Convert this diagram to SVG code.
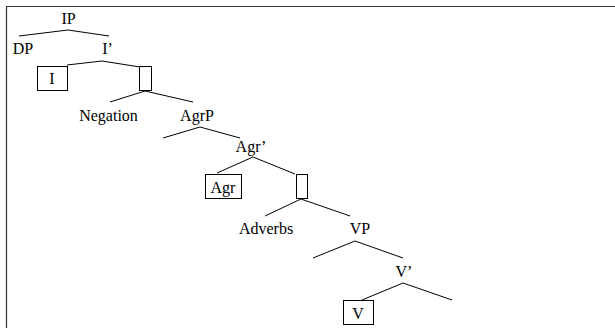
<svg xmlns="http://www.w3.org/2000/svg" width="615" height="328" viewBox="0 0 615 328">
<style>
text{font-family:"Liberation Serif","Times New Roman",serif;font-size:16px;fill:#000;text-anchor:middle}
.e{stroke:#000;stroke-width:1;fill:none}
.b{stroke:#000;stroke-width:1;fill:#fff}
</style>
<rect x="0" y="0" width="615" height="328" fill="#fff"/>
<path d="M6.5,340 V6.5 H620" fill="none" stroke="#333" stroke-width="1.2"/>
<g id="edges">
<path class="e" d="M19,36 L68,30 L109,36"/>
<path class="e" d="M67,65 L102,61 L140,67"/>
<path class="e" d="M110,102 L145,91 L193,102"/>
<path class="e" d="M163,138 L200,127 L240,138"/>
<path class="e" d="M217,173 L253,157 L295,174"/>
<path class="e" d="M265,216 L301,199 L350,216"/>
<path class="e" d="M313,258 L355,241 L403,258"/>
<path class="e" d="M362,300 L403,283 L452,300"/>
</g>
<g id="IP"><text x="68.5" y="24">IP</text></g>
<g id="DP"><text x="23" y="54">DP</text></g>
<g id="Ibar"><text x="107.5" y="54">I’</text></g>
<g id="I"><rect class="b" x="37.5" y="66.5" width="30" height="24"/><text x="52" y="84">I</text></g>
<g id="box1"><rect class="b" x="139.5" y="66.5" width="12" height="24"/></g>
<g id="Negation"><text x="108.5" y="121">Negation</text></g>
<g id="AgrP"><text x="197" y="121">AgrP</text></g>
<g id="Agrbar"><text x="251" y="152">Agr’</text></g>
<g id="Agr"><rect class="b" x="205.5" y="174.5" width="36" height="24"/><text x="223" y="193">Agr</text></g>
<g id="box2"><rect class="b" x="296.5" y="174.5" width="11" height="24"/></g>
<g id="Adverbs"><text x="266" y="234">Adverbs</text></g>
<g id="VP"><text x="360" y="234">VP</text></g>
<g id="Vbar"><text x="404" y="277">V’</text></g>
<g id="V"><rect class="b" x="343.5" y="300.5" width="30" height="24"/><text x="358" y="319">V</text></g>
</svg>
